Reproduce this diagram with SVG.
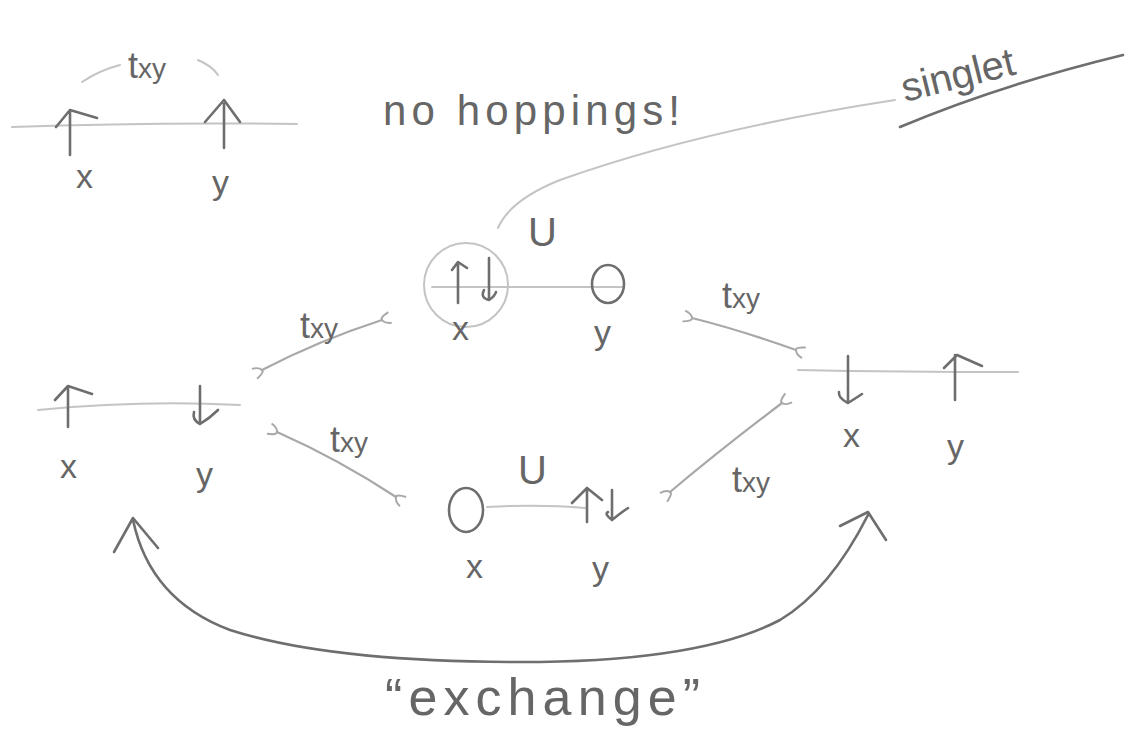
<svg xmlns="http://www.w3.org/2000/svg" width="1127" height="744" viewBox="0 0 1127 744">
<style>
.ink{fill:none;stroke:#6e6e6e;stroke-width:2.6;stroke-linecap:round;stroke-linejoin:round}
.faint{fill:none;stroke:#c4c4c4;stroke-width:2;stroke-linecap:round}
.mid{fill:none;stroke:#a8a8a8;stroke-width:2.2;stroke-linecap:round}
.t{font-family:"Liberation Sans","DejaVu Sans",sans-serif;fill:#666}
.lbl{font-size:34px}
.txy{font-size:36px}
</style>
<defs>
<marker id="hook" viewBox="0 0 10 10" refX="2" refY="5" markerWidth="14" markerHeight="14" orient="auto-start-reverse" markerUnits="userSpaceOnUse">
<path d="M8,1 Q1,3 2,5 Q3,8 8,9" fill="none" stroke="#a8a8a8" stroke-width="1.4"/>
</marker>
</defs>
<rect width="1127" height="744" fill="#fff"/>

<!-- top-left: no hoppings -->
<g id="node-parallel">
<path class="faint" d="M12,127 Q150,122 297,124"/>
<path class="faint" d="M82,82 Q100,70 120,65 M198,60 Q212,66 218,75"/>
<path class="ink" d="M70,155 V110 M56,127 L70,110 L97,118"/>
<path class="ink" d="M224,148 V104 M205,122 L224,100 L240,122"/>
<text class="t txy" x="128" y="78">t<tspan font-size="28">xy</tspan></text>
<text class="t lbl" x="76" y="188">x</text>
<text class="t lbl" x="212" y="194">y</text>
</g>
<text class="t" x="383" y="125" font-size="42" textLength="297" lengthAdjust="spacing">no hoppings!</text>

<g id="label-singlet">
<text class="t" x="905" y="102" font-size="40" transform="rotate(-14 905 102)">singlet</text>
<path class="ink" d="M900,127 Q1000,85 1123,55" stroke-width="2"/>
</g>

<!-- top center doublon on x -->
<g id="node-top">
<circle cx="466" cy="285" r="42" class="faint" stroke="#d6d6d6"/>
<path class="faint" d="M432,287 H622"/>
<path class="ink" d="M458,303 V264 M452,270 L458,262 L467,268"/>
<path class="ink" d="M489,258 V300 Q480,298 484,290 M489,300 Q495,296 496,292"/>
<ellipse cx="608" cy="284" rx="16" ry="19" class="ink"/>
<text class="t lbl" x="452" y="340">x</text>
<text class="t lbl" x="594" y="344">y</text>
<text class="t" x="528" y="246" font-size="40">U</text>
</g>

<!-- left: up x, down y -->
<g id="node-left">
<path class="faint" d="M38,410 Q140,400 240,405"/>
<path class="ink" d="M68,427 V388 M55,400 L68,386 L92,394"/>
<path class="ink" d="M200,386 V424 Q192,420 194,412 M200,424 Q210,418 218,410"/>
<text class="t lbl" x="60" y="478">x</text>
<text class="t lbl" x="196" y="486">y</text>
</g>

<!-- bottom center doublon on y -->
<g id="node-bottom">
<ellipse cx="466" cy="510" rx="17" ry="22" class="ink"/>
<path class="faint" d="M487,507 Q540,504 585,508"/>
<path class="ink" d="M587,522 V488 M572,503 L587,488 L602,500"/>
<path class="ink" d="M612,490 V520 Q604,514 608,512 M612,520 Q622,512 628,508"/>
<text class="t lbl" x="466" y="578">x</text>
<text class="t lbl" x="592" y="580">y</text>
<text class="t" x="518" y="484" font-size="40">U</text>
</g>

<!-- right: down x, up y -->
<g id="node-right">
<path class="faint" d="M798,370 Q900,372 1018,372"/>
<path class="ink" d="M848,356 V403 Q838,398 839,392 M848,403 Q856,398 862,394"/>
<path class="ink" d="M955,400 V355 M944,368 L957,355 L982,366"/>
<text class="t lbl" x="843" y="447">x</text>
<text class="t lbl" x="947" y="458">y</text>
</g>

<!-- connectors -->
<g id="connectors">
<path class="mid" d="M262,370 Q320,340 382,320" marker-start="url(#hook)" marker-end="url(#hook)"/>
<path class="mid" d="M692,318 Q740,330 796,350" marker-start="url(#hook)" marker-end="url(#hook)"/>
<path class="mid" d="M277,432 Q340,460 396,497" marker-start="url(#hook)" marker-end="url(#hook)"/>
<path class="mid" d="M670,492 Q720,450 782,403" marker-start="url(#hook)" marker-end="url(#hook)"/>
<path class="ink" d="M133,520 Q150,600 230,630 Q330,662 520,662 Q700,662 780,620 Q830,590 868,515"/>
<path class="ink" d="M114,552 L133,518 L158,548"/>
<path class="ink" d="M840,526 L868,512 L886,540"/>
<path class="faint" d="M895,100 Q700,130 560,180 Q510,200 498,228" stroke="#d0d0d0"/>
</g>

<text class="t txy" x="300" y="338">t<tspan font-size="28">xy</tspan></text>
<text class="t txy" x="722" y="308">t<tspan font-size="28">xy</tspan></text>
<text class="t txy" x="330" y="452">t<tspan font-size="28">xy</tspan></text>
<text class="t txy" x="732" y="492">t<tspan font-size="28">xy</tspan></text>
<text class="t" x="385" y="715" font-size="52" textLength="315" lengthAdjust="spacing">“exchange”</text>
</svg>
